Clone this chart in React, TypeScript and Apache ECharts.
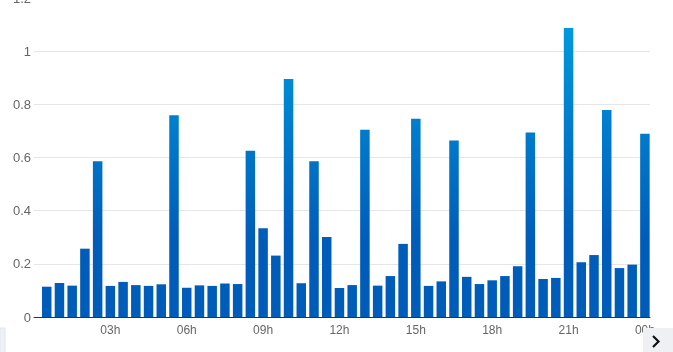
import React, { useEffect, useRef } from "react";
import * as echarts from "echarts";

// half-hour slots, in hours from midnight (00:30 … 24:00)
const hours: number[] = [
  0.5, 1, 1.5, 2, 2.5, 3, 3.5, 4, 4.5, 5, 5.5, 6,
  6.5, 7, 7.5, 8, 8.5, 9, 9.5, 10, 10.5, 11, 11.5, 12,
  12.5, 13, 13.5, 14, 14.5, 15, 15.5, 16, 16.5, 17, 17.5, 18,
  18.5, 19, 19.5, 20, 20.5, 21, 21.5, 22, 22.5, 23, 23.5, 24,
];

const values: number[] = [
  0.114, 0.128, 0.118, 0.257, 0.586, 0.117, 0.132, 0.12, 0.117, 0.123, 0.759, 0.11,
  0.119, 0.117, 0.126, 0.124, 0.625, 0.334, 0.231, 0.895, 0.127, 0.586, 0.301, 0.109,
  0.12, 0.704, 0.118, 0.154, 0.275, 0.746, 0.117, 0.134, 0.664, 0.151, 0.124, 0.138,
  0.154, 0.191, 0.694, 0.143, 0.147, 1.087, 0.206, 0.233, 0.779, 0.184, 0.197, 0.689,
];

const yTicks: number[] = [0, 0.2, 0.4, 0.6, 0.8, 1, 1.2];

const OFF = 20; // container is shifted up so the top of the axis sits above the page edge

export default function App() {
  const ref = useRef<HTMLDivElement>(null);
  useEffect(() => {
    if (!ref.current) return;
    const chart = echarts.init(ref.current, null, { renderer: "svg" });
    const gradient = new echarts.graphic.LinearGradient(
      0,
      28 + OFF,
      0,
      240 + OFF,
      [
        { offset: 0, color: "#0099dd" },
        { offset: 1, color: "#005cb9" },
      ],
      true
    );
    chart.setOption({
      animation: false,
      grid: { left: 34, right: 23, top: OFF - 2, bottom: 35 },
      xAxis: {
        type: "value",
        min: 0,
        max: 24.2,
        interval: 3,
        axisLine: { show: true, lineStyle: { color: "#333", width: 1 } },
        axisTick: { show: false },
        splitLine: { show: false },
        axisLabel: {
          color: "#666",
          fontSize: 12,
          fontFamily: "Liberation Sans, Arial, sans-serif",
          margin: 7,
          showMaxLabel: false,
          formatter: (v: number) => {
            if (v === 0 || v > 24) return "";
            const h = v % 24;
            return (h < 10 ? "0" + h : "" + h) + "h";
          },
        },
      },
      yAxis: {
        type: "value",
        min: yTicks[0],
        max: yTicks[yTicks.length - 1],
        interval: 0.2,
        axisLine: { show: false },
        axisTick: { show: false },
        splitLine: { lineStyle: { color: "#e6e6e6", width: 1 } },
        axisLabel: {
          color: "#666",
          fontSize: 13,
          fontFamily: "Liberation Sans, Arial, sans-serif",
          margin: 3,
          formatter: (v: number) => String(Math.round(v * 10) / 10),
        },
      },
      series: [
        {
          type: "bar",
          barWidth: 9.5,
          data: hours.map((h, i) => [h, values[i]]),
          itemStyle: { color: gradient },
          z: 3,
        },
      ],
      graphic: [
        {
          type: "rect",
          shape: { x: 0, y: 328 + OFF, width: 5, height: 30 },
          style: { fill: "#eef1f5", stroke: "#e2e6eb", lineWidth: 1 },
          z: 10,
        },
        {
          type: "rect",
          shape: { x: 643, y: 328 + OFF, width: 32, height: 30 },
          style: { fill: "#eef0f3" },
          z: 10,
        },
        {
          type: "polyline",
          shape: { points: [[653, 336 + OFF], [658.5, 341.5 + OFF], [653, 347 + OFF]] },
          style: { stroke: "#111", lineWidth: 2.2, fill: "none" },
          z: 11,
        },
      ],
    });
    return () => chart.dispose();
  }, []);
  return (
    <div
      ref={ref}
      style={{ position: "fixed", left: 0, top: -OFF, width: 673, height: 352 + OFF }}
    />
  );
}
